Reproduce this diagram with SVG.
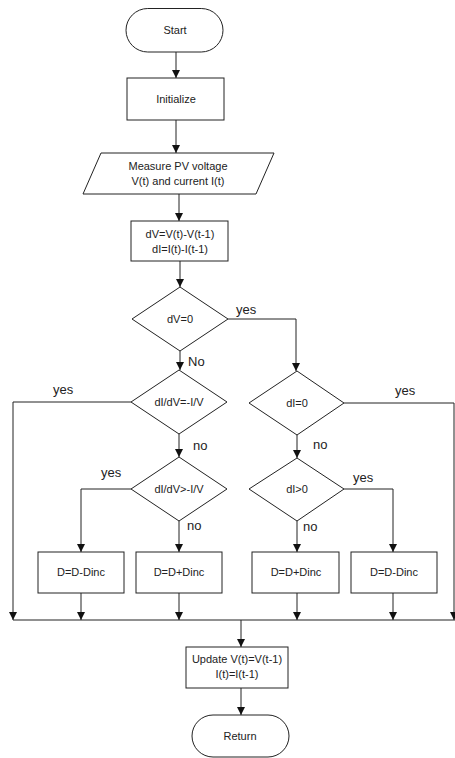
<svg xmlns="http://www.w3.org/2000/svg" width="455" height="758" viewBox="0 0 455 758">
<defs>
<style>
.s{fill:#fff;stroke:#222;stroke-width:1}
.t{font-family:"Liberation Sans",Arial,sans-serif;font-size:11px;fill:#222;text-anchor:middle}
.l{font-family:"Liberation Sans",Arial,sans-serif;font-size:13px;fill:#222}
.c{fill:none;stroke:#222;stroke-width:1}
</style>
<marker id="a" viewBox="0 0 10 10" refX="10" refY="5" markerWidth="8" markerHeight="8" markerUnits="userSpaceOnUse" orient="auto"><path d="M0,0L10,5L0,10z" fill="#111"/></marker>
</defs>
<rect width="455" height="758" fill="#fff"/>
<g id="connectors">
<path class="c" d="M176,52V78" marker-end="url(#a)"/>
<path class="c" d="M176,120V153" marker-end="url(#a)"/>
<path class="c" d="M179,194V221" marker-end="url(#a)"/>
<path class="c" d="M180,261V287" marker-end="url(#a)"/>
<path class="c" d="M180,351V370" marker-end="url(#a)"/>
<path class="c" d="M228,319H296V371" marker-end="url(#a)"/>
<path class="c" d="M179,434V457" marker-end="url(#a)"/>
<path class="c" d="M131,402H13V620" marker-end="url(#a)"/>
<path class="c" d="M131,489H81V552" marker-end="url(#a)"/>
<path class="c" d="M179,521V552" marker-end="url(#a)"/>
<path class="c" d="M81,593V620" marker-end="url(#a)"/>
<path class="c" d="M179,593V620" marker-end="url(#a)"/>
<path class="c" d="M297,435V458" marker-end="url(#a)"/>
<path class="c" d="M344,403H454V620" marker-end="url(#a)"/>
<path class="c" d="M344,489H393V552" marker-end="url(#a)"/>
<path class="c" d="M297,521V552" marker-end="url(#a)"/>
<path class="c" d="M297,593V620" marker-end="url(#a)"/>
<path class="c" d="M393,593V620" marker-end="url(#a)"/>
<path class="c" d="M13,620H455"/>
<path class="c" d="M241,620V647" marker-end="url(#a)"/>
<path class="c" d="M241,688V715" marker-end="url(#a)"/>
<text class="l" x="236" y="314">yes</text>
<text class="l" x="188" y="366">No</text>
<text class="l" x="53" y="394">yes</text>
<text class="l" x="193" y="450">no</text>
<text class="l" x="101" y="477">yes</text>
<text class="l" x="187" y="530">no</text>
<text class="l" x="395" y="395">yes</text>
<text class="l" x="313" y="449">no</text>
<text class="l" x="353" y="482">yes</text>
<text class="l" x="303" y="531">no</text>
</g>
<g id="start"><rect class="s" x="126" y="8.5" width="97" height="43.5" rx="21.75"/><text class="t" x="175" y="34">Start</text></g>
<g id="init"><rect class="s" x="127" y="78" width="97" height="42"/><text class="t" x="176" y="103">Initialize</text></g>
<g id="measure"><path class="s" d="M101,153H274L256,194H83z"/><text class="t" x="178" y="170">Measure PV voltage</text><text class="t" x="178" y="185">V(t) and current I(t)</text></g>
<g id="calc"><rect class="s" x="131" y="221" width="97" height="40"/><text class="t" x="180" y="238">dV=V(t)-V(t-1)</text><text class="t" x="180" y="253">dI=I(t)-I(t-1)</text></g>
<g id="d1"><path class="s" d="M180,287L228,319L180,351L132,319z"/><text class="t" x="180" y="323">dV=0</text></g>
<g id="d2"><path class="s" d="M179,370L227,402L179,434L131,402z"/><text class="t" x="179" y="406">dI/dV=-I/V</text></g>
<g id="d3"><path class="s" d="M179,457L227,489L179,521L131,489z"/><text class="t" x="179" y="493">dI/dV&gt;-I/V</text></g>
<g id="d4"><path class="s" d="M297,371L344,403L297,435L249,403z"/><text class="t" x="297" y="407">dI=0</text></g>
<g id="d5"><path class="s" d="M297,458L344,489L297,521L249,489z"/><text class="t" x="297" y="493">dI&gt;0</text></g>
<g id="b1"><rect class="s" x="38" y="552" width="86" height="41"/><text class="t" x="81" y="576">D=D-Dinc</text></g>
<g id="b2"><rect class="s" x="136" y="552" width="86" height="41"/><text class="t" x="179" y="576">D=D+Dinc</text></g>
<g id="b3"><rect class="s" x="252" y="552" width="87" height="41"/><text class="t" x="296" y="576">D=D+Dinc</text></g>
<g id="b4"><rect class="s" x="351" y="552" width="86" height="41"/><text class="t" x="394" y="576">D=D-Dinc</text></g>
<g id="update"><rect class="s" x="186" y="647" width="102" height="41"/><text class="t" x="237" y="663">Update V(t)=V(t-1)</text><text class="t" x="237" y="678">I(t)=I(t-1)</text></g>
<g id="return"><rect class="s" x="192" y="715" width="97" height="42" rx="21"/><text class="t" x="240" y="740">Return</text></g>
</svg>
